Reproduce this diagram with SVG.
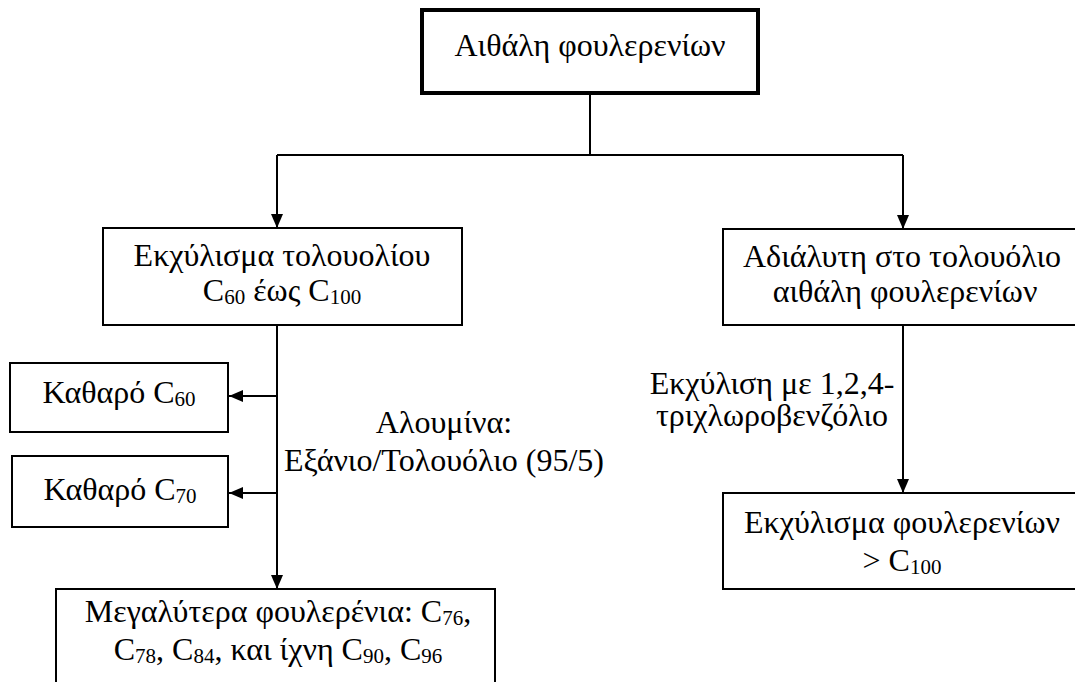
<svg xmlns="http://www.w3.org/2000/svg" width="1075" height="682" viewBox="0 0 1075 682">
<defs>
<marker id="arr" viewBox="0 0 14 12" refX="14" refY="6" markerWidth="14" markerHeight="12" markerUnits="userSpaceOnUse" orient="auto">
<path d="M0,0 L14,6 L0,12 Z" fill="#000"/>
</marker>
<style>
.box{fill:#fff;stroke:#000;stroke-width:2}
.thick{fill:#fff;stroke:#000;stroke-width:4}
.t{font-family:'Liberation Serif','Times New Roman',serif;font-size:32px;fill:#000}
.m{text-anchor:middle}
.s{font-size:21px}
.c{fill:none;stroke:#000;stroke-width:2}
</style>
</defs>
<rect width="1075" height="682" fill="#fff"/>
<g id="connectors">
<path class="c" d="M590,93 V155"/>
<path class="c" d="M277,155 H903"/>
<path class="c" d="M277,155 V228" marker-end="url(#arr)"/>
<path class="c" d="M903,155 V229" marker-end="url(#arr)"/>
<path class="c" d="M277,325 V589" marker-end="url(#arr)"/>
<path class="c" d="M277,396 H229" marker-end="url(#arr)"/>
<path class="c" d="M277,493 H229" marker-end="url(#arr)"/>
<path class="c" d="M903,325 V493" marker-end="url(#arr)"/>
</g>
<g id="n-top">
<rect class="thick" x="422" y="10" width="336" height="83"/>
<text class="t m" x="590" y="56">Αιθάλη φουλερενίων</text>
</g>
<g id="n-toluene">
<rect class="box" x="103" y="228" width="359" height="97"/>
<text class="t m" x="282" y="266">Εκχύλισμα τολουολίου</text>
<text class="t m" x="282" y="301">C<tspan class="s" dy="3">60</tspan><tspan dy="-3"> έως C</tspan><tspan class="s" dy="3">100</tspan></text>
</g>
<g id="n-insoluble">
<rect class="box" x="723" y="229" width="360" height="96"/>
<text class="t m" x="902" y="267">Αδιάλυτη στο τολουόλιο</text>
<text class="t m" x="905" y="302">αιθάλη φουλερενίων</text>
</g>
<g id="n-c60">
<rect class="box" x="10" y="363" width="218" height="69"/>
<text class="t m" x="119" y="403">Καθαρό C<tspan class="s" dy="3">60</tspan></text>
</g>
<g id="n-c70">
<rect class="box" x="12" y="456" width="216" height="71"/>
<text class="t m" x="120" y="500">Καθαρό C<tspan class="s" dy="3">70</tspan></text>
</g>
<g id="label-alumina">
<text class="t m" x="444" y="433">Αλουμίνα:</text>
<text class="t m" x="444" y="471">Εξάνιο/Τολουόλιο (95/5)</text>
</g>
<g id="n-larger">
<rect class="box" x="56" y="589" width="439" height="110"/>
<text class="t m" x="278" y="622">Μεγαλύτερα φουλερένια: C<tspan class="s" dy="3">76</tspan><tspan dy="-3">,</tspan></text>
<text class="t m" x="278" y="660">C<tspan class="s" dy="3">78</tspan><tspan dy="-3">, C</tspan><tspan class="s" dy="3">84</tspan><tspan dy="-3">, και ίχνη C</tspan><tspan class="s" dy="3">90</tspan><tspan dy="-3">, C</tspan><tspan class="s" dy="3">96</tspan></text>
</g>
<g id="label-tcb">
<text class="t m" x="772" y="394">Εκχύλιση με 1,2,4-</text>
<text class="t m" x="772" y="426">τριχλωροβενζόλιο</text>
</g>
<g id="n-extract">
<rect class="box" x="723" y="493" width="360" height="96"/>
<text class="t m" x="902" y="533">Εκχύλισμα φουλερενίων</text>
<text class="t m" x="902" y="571">&gt; C<tspan class="s" dy="3">100</tspan></text>
</g>
</svg>
